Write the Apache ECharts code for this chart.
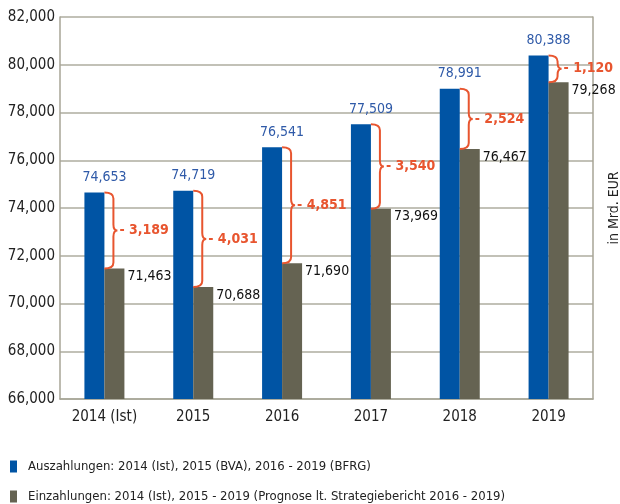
<!DOCTYPE html>
<html lang="de" style="height: 100%">
<head>
  <meta charset="utf-8">
</head>
<body style="height: 100%; margin: 0; background: #fff">
  <div id="container" style="width: 620px; height: 504px"></div>
  <script src="https://cdn.jsdelivr.net/npm/echarts@6/dist/echarts.min.js"></script>
  <script type="text/javascript">
	// data (Mio. EUR)
	var years = ['2014 (Ist)', '2015', '2016', '2017', '2018', '2019'];
	var auszahlungen = [74653, 74719, 76541, 77509, 78991, 80388];
	var einzahlungen = [71463, 70688, 71690, 73969, 76467, 79268];
	var diffLabels = ['- 3,189', '- 4,031', '- 4,851', '- 3,540', '- 2,524', '- 1,120'];
	var yTicks = [66000, 68000, 70000, 72000, 74000, 76000, 78000, 80000, 82000];
	var seriesNames = ['Auszahlungen: 2014 (Ist), 2015 (BVA), 2016 - 2019 (BFRG)',
	                   'Einzahlungen: 2014 (Ist), 2015 - 2019 (Prognose lt. Strategiebericht 2016 - 2019)'];

	var FONT = '"DejaVu Sans Condensed", "Open Sans", sans-serif';
	var BLUE = '#0054a4';
	var GREY = '#656352';
	var ORANGE = '#e8552f';
	var fmt = function (v) { return v.toLocaleString('en-US'); };

	// brace data: [category index, top value, bottom value, label]
	var braceData = years.map((y, i) => [i, auszahlungen[i], einzahlungen[i], diffLabels[i]]);

	var dom = document.getElementById('container');
	var myChart = echarts.init(dom, null, { renderer: 'canvas' });

	//one legend per line so they stack like the original
	var legendBase = {
	  orient: 'horizontal', left: 5,
	  itemWidth: 7, itemHeight: 12, icon: 'rect',
	  textStyle: { fontSize: 13, color: '#222', fontFamily: FONT, padding: [0, 0, 0, 6] }
	};

	var option = {
	  animation: false,
	  textStyle: { fontFamily: FONT },
	  grid: { left: 60, right: 27, top: 17, bottom: 105, outerBoundsMode: 'none', containLabel: false },
	  legend: [
	    Object.assign({}, legendBase, { top: 455, data: [seriesNames[0]] }),
	    Object.assign({}, legendBase, { top: 485, data: [seriesNames[1]] })
	  ],
	  xAxis: {
	    type: 'category',
	    data: years,
	    axisLine: { lineStyle: { color: '#a7a596', width: 1.5 } },
	    axisTick: { length: 5, lineStyle: { color: '#a7a596', width: 1.5 } },
	    axisLabel: { color: '#222', fontSize: 15, margin: 11 }
	  },
	  yAxis: [{
	    type: 'value',
	    min: yTicks[0], max: yTicks[yTicks.length - 1], interval: 2000,
	    axisLine: { show: true, lineStyle: { color: '#a7a596', width: 1.5 } },
	    axisTick: { show: false },
	    splitLine: { lineStyle: { color: '#aeac9f', width: 1.5 } },
	    axisLabel: { color: '#222', fontSize: 15, margin: 5, formatter: fmt }
	  }, {
	    type: 'value', position: 'right',
	    min: yTicks[0], max: yTicks[yTicks.length - 1], interval: 2000,
	    axisLine: { show: true, lineStyle: { color: '#a7a596', width: 1.5 } },
	    axisTick: { show: false }, axisLabel: { show: false }, splitLine: { show: false },
	    name: 'in Mrd. EUR', nameLocation: 'middle', nameRotate: 90, nameGap: 14,
	    nameTextStyle: { color: '#222', fontSize: 14, fontFamily: FONT }
	  }],
	  series: [{
	    name: seriesNames[0],
	    type: 'bar', barWidth: 20, barGap: '0%',
	    itemStyle: { color: BLUE },
	    data: auszahlungen,
	    label: {
	      show: true, position: 'top', offset: [10, -3],
	      color: '#2f5aa8', fontSize: 14, fontFamily: FONT,
	      formatter: p => fmt(p.value)
	    }
	  }, {
	    name: seriesNames[1],
	    type: 'bar', barWidth: 20,
	    itemStyle: { color: GREY },
	    data: einzahlungen,
	    label: {
	      show: true, position: ['100%', 0], offset: [3, 1],
	      align: 'left', verticalAlign: 'top',
	      color: '#111', fontSize: 14, fontFamily: FONT,
	      formatter: p => fmt(p.value)
	    }
	  }, {
	    // curly braces marking the gap between the two bars
	    type: 'custom',
	    coordinateSystem: 'cartesian2d',
	    encode: { x: 0, y: [1, 2] },
	    data: braceData,
	    z: 5,
	    renderItem: function (params, api) {
	      var top = api.coord([api.value(0), api.value(1)]);
	      var bot = api.coord([api.value(0), api.value(2)]);
	      var x0 = top[0], y1 = top[1], y2 = bot[1], ym = (y1 + y2) / 2;
	      var w = 9, r = 6;
	      var d = 'M' + x0 + ' ' + y1 +
	        ' Q' + (x0 + w) + ' ' + y1 + ' ' + (x0 + w) + ' ' + (y1 + r) +
	        ' L' + (x0 + w) + ' ' + (ym - r) +
	        ' Q' + (x0 + w) + ' ' + ym + ' ' + (x0 + w + 4) + ' ' + ym +
	        ' Q' + (x0 + w) + ' ' + ym + ' ' + (x0 + w) + ' ' + (ym + r) +
	        ' L' + (x0 + w) + ' ' + (y2 - r) +
	        ' Q' + (x0 + w) + ' ' + y2 + ' ' + x0 + ' ' + y2;
	      return {
	        type: 'group',
	        children: [{
	          type: 'path',
	          shape: { pathData: d },
	          style: { stroke: ORANGE, lineWidth: 2, fill: null }
	        }, {
	          type: 'text',
	          x: x0 + w + 6, y: ym,
	          style: {
	            text: braceData[params.dataIndex][3],
	            fill: ORANGE, fontSize: 14, fontWeight: 'bold', fontFamily: FONT,
	            verticalAlign: 'middle', align: 'left'
	          }
	        }]
	      };
	    }
	  }]
	};

	myChart.setOption(option);
	window.addEventListener('resize', myChart.resize);
  </script>
</body>
</html>
